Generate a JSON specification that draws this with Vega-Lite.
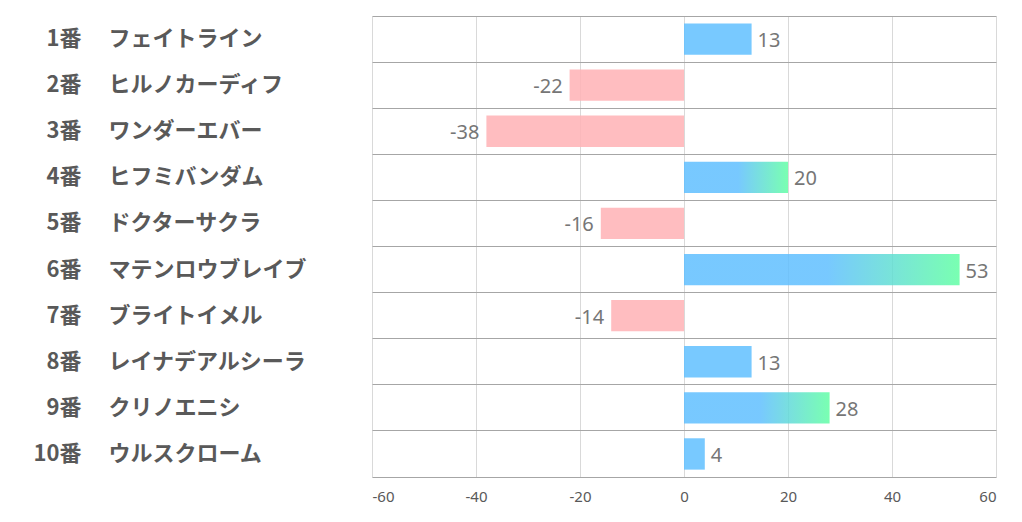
{
  "$schema": "https://vega.github.io/schema/vega-lite/v6.json",
  "width": 624,
  "height": 461,
  "autosize": {"type": "none"},
  "padding": {"left": 372, "top": 16, "right": 26, "bottom": 45},
  "background": "white",
  "config": {"view": {"stroke": null}, "font": "Noto Sans CJK JP"},
  "data": {
    "values": [
      {"label": "1番|フェイトライン", "value": 13},
      {"label": "2番|ヒルノカーディフ", "value": -22},
      {"label": "3番|ワンダーエバー", "value": -38},
      {"label": "4番|ヒフミバンダム", "value": 20},
      {"label": "5番|ドクターサクラ", "value": -16},
      {"label": "6番|マテンロウブレイブ", "value": 53},
      {"label": "7番|ブライトイメル", "value": -14},
      {"label": "8番|レイナデアルシーラ", "value": 13},
      {"label": "9番|クリノエニシ", "value": 28},
      {"label": "10番|ウルスクローム", "value": 4}
    ]
  },
  "encoding": {
    "x": {
      "field": "value",
      "type": "quantitative",
      "scale": {"domain": [-60, 60], "nice": false},
      "axis": {
        "values": [-60, -40, -20, 0, 20, 40, 60],
        "labelExpr": "toString(datum.value)",
        "title": null,
        "grid": true,
        "gridColor": "#d9d9d9",
        "ticks": false,
        "tickSize": 0,
        "domainColor": "#a6a6a6",
        "labelColor": "#595959",
        "labelFont": "Noto Sans",
        "labelFontSize": 15,
        "labelPadding": 12
      }
    }
  },
  "layer": [
    {
      "transform": [{"filter": "datum.value < 0"}],
      "mark": {"type": "bar", "height": {"band": 0.68}, "color": "#FFB1B5", "fillOpacity": 0.85},
      "encoding": {
        "y": {
          "field": "label", "type": "nominal", "sort": null,
          "scale": {"domain": ["1番|フェイトライン", "2番|ヒルノカーディフ", "3番|ワンダーエバー", "4番|ヒフミバンダム", "5番|ドクターサクラ", "6番|マテンロウブレイブ", "7番|ブライトイメル", "8番|レイナデアルシーラ", "9番|クリノエニシ", "10番|ウルスクローム"], "paddingInner": 0, "paddingOuter": 0},
          "axis": {"orient": "left", "labels": false, "ticks": false, "tickSize": 0, "domain": false, "grid": true, "gridColor": "#a6a6a6", "bandPosition": 0, "title": null}
        }
      }
    },
    {
      "transform": [{"filter": "datum.value > 0 && datum.value < 15"}],
      "mark": {"type": "bar", "height": {"band": 0.68}, "color": "#60BFFF", "fillOpacity": 0.85},
      "encoding": {
        "y": {
          "field": "label", "type": "nominal", "sort": null,
          "axis": {"orient": "left", "labelExpr": "split(datum.label, '|')[0]", "labelAlign": "right", "labelPadding": 291, "ticks": false, "tickSize": 0, "domain": false, "grid": false, "labelFont": "Noto Sans CJK JP", "labelFontWeight": "bold", "labelFontSize": 22, "labelColor": "#595959", "labelLimit": 0, "title": null}
        }
      }
    },
    {
      "transform": [{"filter": "datum.value >= 15"}],
      "mark": {
        "type": "bar", "height": {"band": 0.68}, "fillOpacity": 0.85,
        "color": {"gradient": "linear", "x1": 0, "y1": 0, "x2": 1, "y2": 0,
          "stops": [{"offset": 0, "color": "#60BFFF"}, {"offset": 0.52, "color": "#60BFFF"}, {"offset": 1, "color": "#62FFA4"}]}
      },
      "encoding": {
        "y": {
          "field": "label", "type": "nominal", "sort": null,
          "axis": {"orient": "left", "labelExpr": "split(datum.label, '|')[1]", "labelAlign": "left", "labelPadding": 264, "ticks": false, "tickSize": 0, "domain": false, "grid": false, "labelFont": "Noto Sans CJK JP", "labelFontWeight": "bold", "labelFontSize": 22, "labelColor": "#595959", "labelLimit": 0, "title": null}
        }
      }
    },
    {
      "transform": [{"filter": "datum.value > 0"}],
      "mark": {"type": "text", "align": "left", "baseline": "middle", "dx": 6, "dy": 2, "font": "Noto Sans", "fontSize": 20, "color": "#767676"},
      "encoding": {
        "y": {"field": "label", "type": "nominal", "sort": null, "axis": null},
        "text": {"field": "value", "type": "nominal"}
      }
    },
    {
      "transform": [{"filter": "datum.value < 0"}],
      "mark": {"type": "text", "align": "right", "baseline": "middle", "dx": -7, "dy": 2, "font": "Noto Sans", "fontSize": 20, "color": "#767676"},
      "encoding": {
        "y": {"field": "label", "type": "nominal", "sort": null, "axis": null},
        "text": {"field": "value", "type": "nominal"}
      }
    }
  ],
  "resolve": {"axis": {"y": "independent"}}
}
